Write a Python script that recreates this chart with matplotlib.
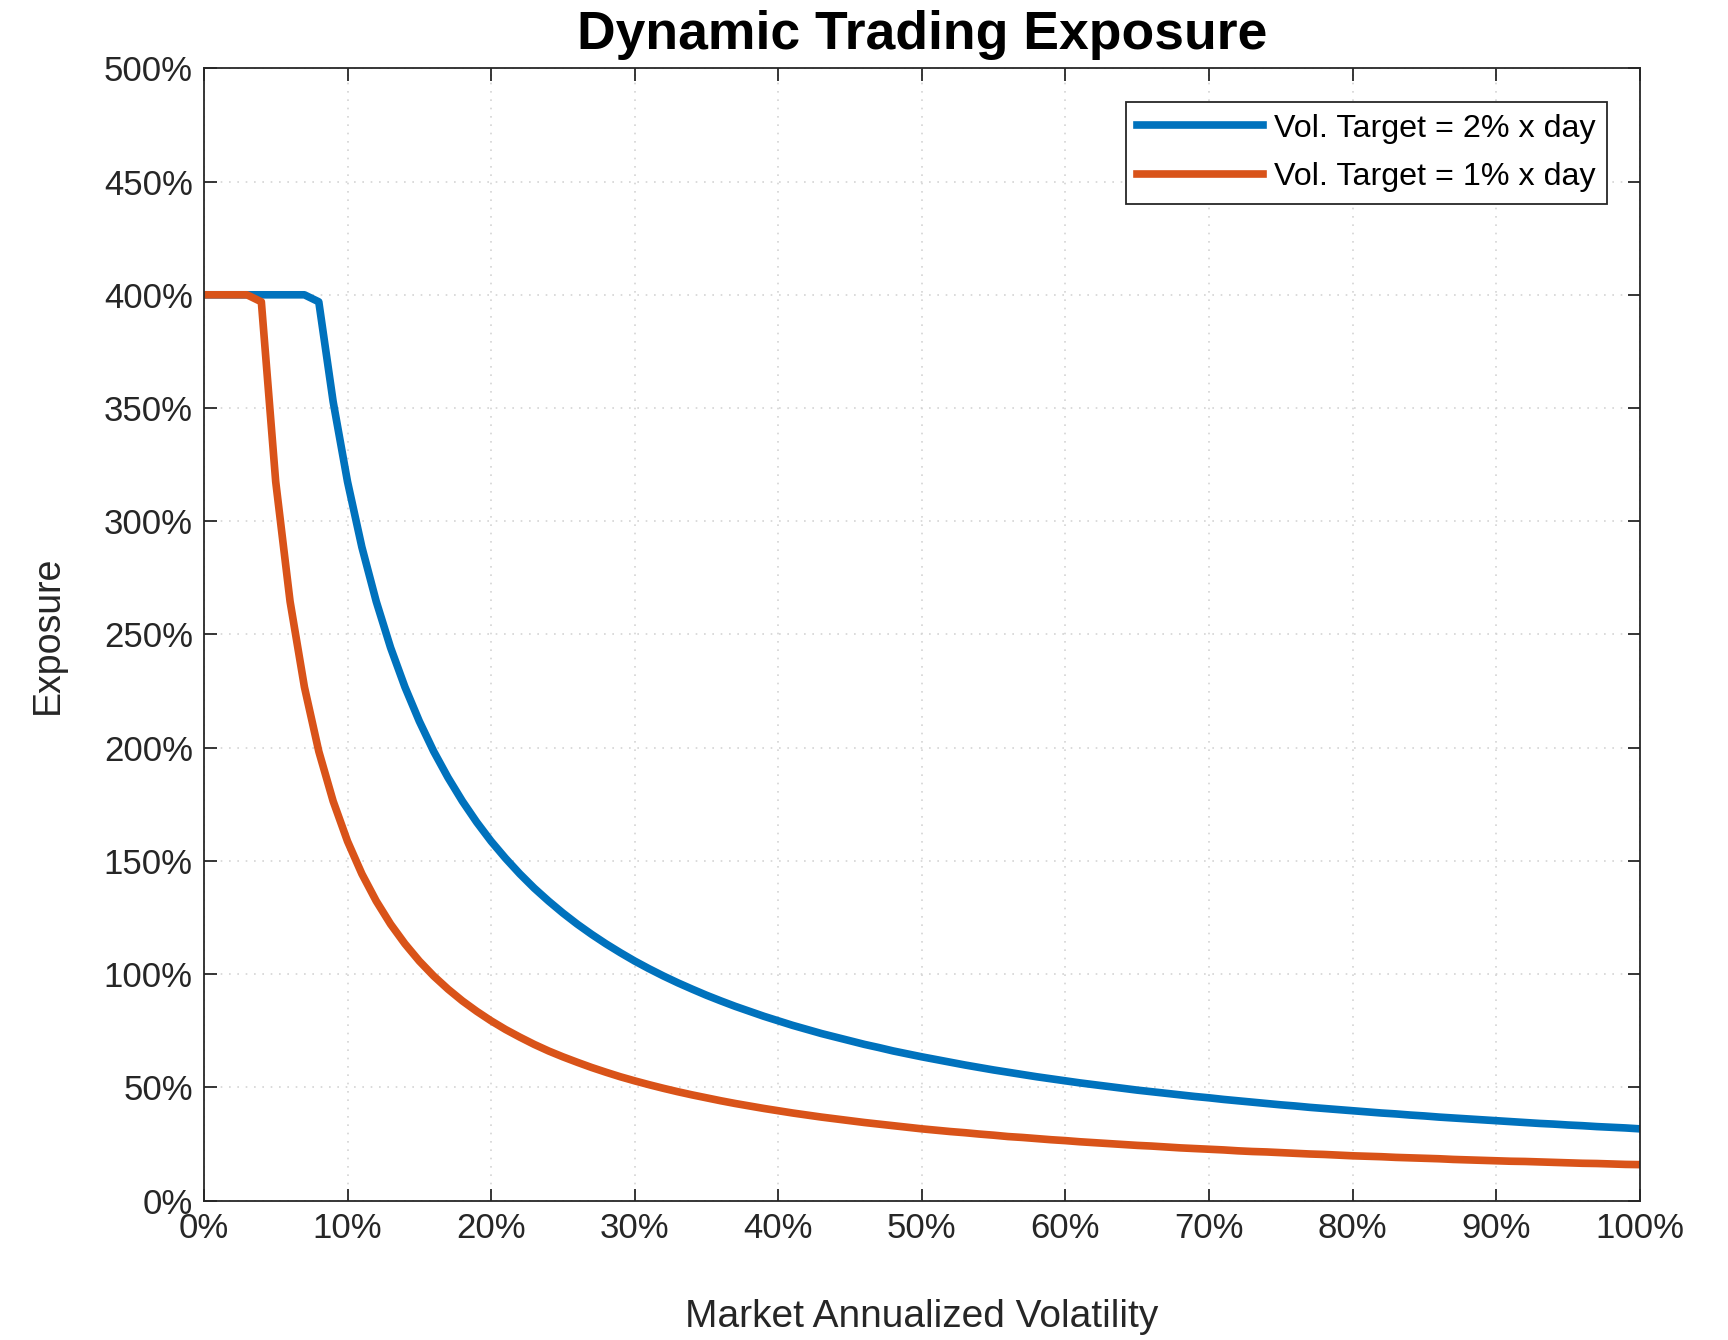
import matplotlib
matplotlib.use('Agg')
import matplotlib.pyplot as plt
from matplotlib.ticker import FuncFormatter

# Data: exposure (%) vs market volatility (%), 1% steps
volatility = list(range(0, 101))

exposure_2pct = [
    400, 400, 400, 400, 400, 400, 400, 400, 396.9, 352.8,
    317.5, 288.6, 264.6, 244.2, 226.8, 211.7, 198.4, 186.8, 176.4, 167.1,
    158.7, 151.2, 144.3, 138.0, 132.3, 127.0, 122.1, 117.6, 113.4, 109.5,
    105.8, 102.4, 99.2, 96.2, 93.4, 90.7, 88.2, 85.8, 83.6, 81.4,
    79.4, 77.4, 75.6, 73.8, 72.2, 70.6, 69.0, 67.6, 66.1, 64.8,
    63.5, 62.3, 61.1, 59.9, 58.8, 57.7, 56.7, 55.7, 54.7, 53.8,
    52.9, 52.0, 51.2, 50.4, 49.6, 48.8, 48.1, 47.4, 46.7, 46.0,
    45.4, 44.7, 44.1, 43.5, 42.9, 42.3, 41.8, 41.2, 40.7, 40.2,
    39.7, 39.2, 38.7, 38.3, 37.8, 37.4, 36.9, 36.5, 36.1, 35.7,
    35.3, 34.9, 34.5, 34.1, 33.8, 33.4, 33.1, 32.7, 32.4, 32.1,
    31.7,
]

exposure_1pct = [
    400, 400, 400, 400, 396.9, 317.5, 264.6, 226.8, 198.4, 176.4,
    158.7, 144.3, 132.3, 122.1, 113.4, 105.8, 99.2, 93.4, 88.2, 83.6,
    79.4, 75.6, 72.2, 69.0, 66.1, 63.5, 61.1, 58.8, 56.7, 54.7,
    52.9, 51.2, 49.6, 48.1, 46.7, 45.4, 44.1, 42.9, 41.8, 40.7,
    39.7, 38.7, 37.8, 36.9, 36.1, 35.3, 34.5, 33.8, 33.1, 32.4,
    31.7, 31.1, 30.5, 30.0, 29.4, 28.9, 28.3, 27.9, 27.4, 26.9,
    26.5, 26.0, 25.6, 25.2, 24.8, 24.4, 24.1, 23.7, 23.3, 23.0,
    22.7, 22.4, 22.0, 21.7, 21.5, 21.2, 20.9, 20.6, 20.4, 20.1,
    19.8, 19.6, 19.4, 19.1, 18.9, 18.7, 18.5, 18.2, 18.0, 17.8,
    17.6, 17.4, 17.3, 17.1, 16.9, 16.7, 16.5, 16.4, 16.2, 16.0,
    15.9,
]

series_labels = ['Vol. Target = 2% x day', 'Vol. Target = 1% x day']
x_ticks = list(range(0, 101, 10))
y_ticks = list(range(0, 501, 50))

plt.rcParams['font.family'] = ['Liberation Sans', 'DejaVu Sans']
dark = '#262626'

fig = plt.figure(figsize=(17.28, 13.40), dpi=100)
ax = fig.add_axes([0.118, 0.104, 0.831, 0.845])

ax.plot(volatility, exposure_2pct, color='#0072BD', linewidth=5.5, label=series_labels[0])
ax.plot(volatility, exposure_1pct, color='#D95319', linewidth=5.5, label=series_labels[1])

ax.set_xlim(0, 100)
ax.set_ylim(0, 500)
ax.set_xticks(x_ticks)
ax.set_yticks(y_ticks)
pct = FuncFormatter(lambda v, pos: f'{v:.0f}%')
ax.xaxis.set_major_formatter(pct)
ax.yaxis.set_major_formatter(pct)

ax.tick_params(direction='in', length=9, width=1.3, top=True, right=True,
               labelsize=25, colors=dark, pad=8)
for s in ax.spines.values():
    s.set_color(dark)
    s.set_linewidth(1.3)

ax.grid(True, linestyle=(0, (1, 4)), color='#d4d4d4', linewidth=1.2)
ax.set_axisbelow(True)

ax.set_title('Dynamic Trading Exposure', fontsize=38.5, fontweight='bold', pad=14)
ax.set_xlabel('Market Annualized Volatility', fontsize=28, color=dark, labelpad=39)
ax.set_ylabel('Exposure', fontsize=27, color=dark, labelpad=27)

leg = ax.legend(loc='upper right', bbox_to_anchor=(0.977, 0.970), fontsize=23.2,
                handlelength=3.9, fancybox=False, framealpha=1, borderpad=0.35,
                labelspacing=0.58, handletextpad=0.35, borderaxespad=0)
leg.get_frame().set_edgecolor(dark)
leg.get_frame().set_linewidth(1.3)

plt.savefig('out.png', dpi=100)
